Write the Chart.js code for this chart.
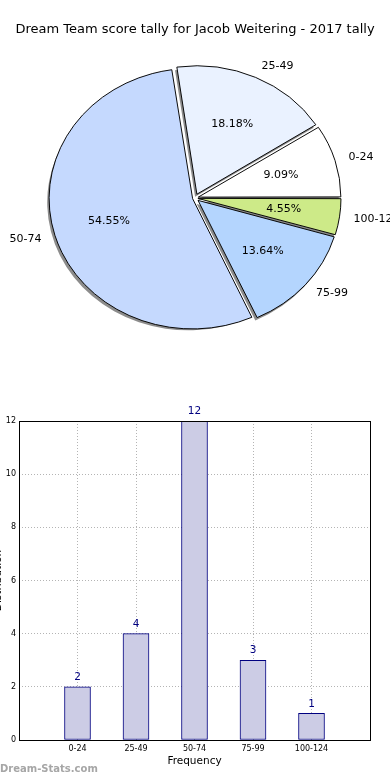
<!DOCTYPE html>
<html lang="en">
<head>
<meta charset="UTF-8">
<title>Dream Team score tally</title>
<script src="https://cdn.jsdelivr.net/npm/chart.js"></script>
<style>
  body { margin: 0; width: 390px; height: 780px; overflow: hidden; background: #fff; position: relative; font-family: "DejaVu Sans", sans-serif; }
  #caixaPizza { position: absolute; left: 0; top: 0; width: 390px; height: 370px; }
  #caixaBarras { position: absolute; left: -8px; top: 380px; width: 398px; height: 400px; }
  .marca { position: absolute; left: 0; top: 762px; font-size: 10px; font-weight: bold; line-height: 14px; color: #a6a6a6; }
</style>
</head>
<body>
<div id="caixaPizza"><canvas id="graficoPizza"></canvas></div>
<div id="caixaBarras"><canvas id="graficoBarras"></canvas></div>
<div class="marca">Dream-Stats.com</div>

<script>
// dados
const categorias = ['0-24', '25-49', '50-74', '75-99', '100-124'];
const contagens = [2, 4, 12, 3, 1];
const coresPizza = ['#ffffff', '#eaf2ff', '#c5d9fe', '#b4d5fe', '#cdea88'];

const fonte = '"DejaVu Sans", sans-serif';
const total = contagens.reduce((a, b) => a + b, 0);

// pizza: chart.js gira no sentido horario, entao invertemos a ordem
const pizzaLabels = categorias.slice().reverse();
const pizzaDados = contagens.slice().reverse();
const pizzaCores = coresPizza.slice().reverse();

const raio = 141;
const afastamento = 5;
const achatar = 0.908;

const pluginPizza = {
    id: 'pizzaOval',
    beforeDatasetsDraw(chart) {
        const ctx = chart.ctx;
        const meta = chart.getDatasetMeta(0);
        const arc0 = meta.data[0];
        ctx.save();
        ctx.translate(arc0.x, arc0.y);
        ctx.scale(1, achatar);
        ctx.translate(-arc0.x, -arc0.y);
        // sombra por baixo das fatias
        ctx.fillStyle = 'rgba(0,0,0,0.45)';
        meta.data.forEach(arc => {
            const meio = (arc.startAngle + arc.endAngle) / 2;
            const cx = arc.x + Math.cos(meio) * afastamento - 2;
            const cy = arc.y + Math.sin(meio) * afastamento + 3 / achatar;
            ctx.beginPath();
            ctx.moveTo(cx, cy);
            ctx.arc(cx, cy, raio, arc.startAngle, arc.endAngle);
            ctx.closePath();
            ctx.fill();
        });
    },
    afterDatasetsDraw(chart) {
        const ctx = chart.ctx;
        ctx.restore();
        const meta = chart.getDatasetMeta(0);
        ctx.save();
        ctx.font = '11px ' + fonte;
        ctx.fillStyle = '#000';
        ctx.textBaseline = 'middle';
        meta.data.forEach((arc, i) => {
            const meio = (arc.startAngle + arc.endAngle) / 2;
            const cos = Math.cos(meio), sin = Math.sin(meio);
            const pos = k => [arc.x + cos * (afastamento + k * raio), arc.y + sin * (afastamento + k * raio) * achatar];
            let [px, py] = pos(0.6);
            ctx.textAlign = 'center';
            ctx.fillText((pizzaDados[i] / total * 100).toFixed(2) + '%', px, py);
            [px, py] = pos(1.1);
            ctx.textAlign = cos > 0 ? 'left' : 'right';
            ctx.fillText(pizzaLabels[i], px, py);
        });
        ctx.restore();
    }
};

new Chart(document.getElementById('graficoPizza'), {
    type: 'pie',
    data: {
        labels: pizzaLabels,
        datasets: [{
            data: pizzaDados,
            backgroundColor: pizzaCores,
            borderColor: '#000',
            borderWidth: 1,
            radius: raio,
            clip: false,
            offset: c => {
                const volta = c.raw / total * 2 * Math.PI;
                return 4 * afastamento / (2 - Math.sin(Math.min(Math.PI, volta)));
            }
        }]
    },
    options: {
        responsive: true,
        maintainAspectRatio: false,
        animation: false,
        rotation: 90,
        layout: { padding: { bottom: 14 } },
        plugins: {
            legend: { display: false },
            tooltip: { enabled: false },
            title: {
                display: true,
                text: 'Dream Team score tally for Jacob Weitering - 2017 tally',
                color: '#000',
                font: { family: fonte, size: 13, weight: 'normal' },
                padding: { top: 22, bottom: 2.4 }
            }
        }
    },
    plugins: [pluginPizza]
});

// barras
const pluginBarras = {
    id: 'rotulosMoldura',
    afterDatasetsDraw(chart) {
        const ctx = chart.ctx;
        ctx.save();
        ctx.font = '10.5px ' + fonte;
        ctx.fillStyle = '#000080';
        ctx.textAlign = 'center';
        ctx.textBaseline = 'middle';
        chart.getDatasetMeta(0).data.forEach((bar, i) => {
            ctx.fillText(String(contagens[i]), bar.x, bar.y - 9.5);
        });
        ctx.restore();
    },
    afterDraw(chart) {
        const a = chart.chartArea;
        const ctx = chart.ctx;
        ctx.save();
        ctx.strokeStyle = '#000';
        ctx.lineWidth = 1;
        ctx.strokeRect(Math.round(a.left) + 0.5, Math.round(a.top) + 0.5, Math.round(a.right - a.left), Math.round(a.bottom - a.top));
        ctx.restore();
    }
};

new Chart(document.getElementById('graficoBarras'), {
    type: 'bar',
    data: {
        datasets: [{
            data: categorias.map((c, i) => ({ x: i + 1, y: contagens[i] })),
            backgroundColor: '#cccce5',
            borderColor: '#000080',
            borderWidth: 1,
            borderSkipped: false,
            barThickness: 26
        }]
    },
    options: {
        responsive: true,
        maintainAspectRatio: false,
        animation: false,
        layout: { padding: { top: 41, right: 20, bottom: 0, left: 0 } },
        plugins: { legend: { display: false }, tooltip: { enabled: false } },
        scales: {
            x: {
                type: 'linear',
                min: 0,
                max: 6,
                offset: false,
                z: 1,
                afterFit: s => { s.height = 40; },
                grid: { offset: false, color: '#b4b4b4', drawTicks: false },
                border: { display: false, dash: [1, 2] },
                ticks: {
                    stepSize: 1,
                    padding: 4,
                    color: '#000',
                    font: { family: fonte, size: 8 },
                    callback: v => categorias[v - 1] || ''
                },
                title: {
                    display: true,
                    text: 'Frequency',
                    color: '#000',
                    font: { family: fonte, size: 10.5 },
                    padding: { top: 0, bottom: 12 }
                }
            },
            y: {
                min: 0,
                max: 12,
                z: 1,
                afterFit: s => { s.width = 27; },
                grid: { color: '#b4b4b4', drawTicks: false },
                border: { display: false, dash: [1, 2] },
                ticks: {
                    stepSize: 2,
                    padding: 3,
                    color: '#000',
                    font: { family: fonte, size: 8 }
                },
                title: {
                    display: true,
                    text: 'Distribution',
                    color: '#000',
                    font: { family: fonte, size: 10.5 },
                    padding: 0
                }
            }
        }
    },
    plugins: [pluginBarras]
});
</script>
</body>
</html>
